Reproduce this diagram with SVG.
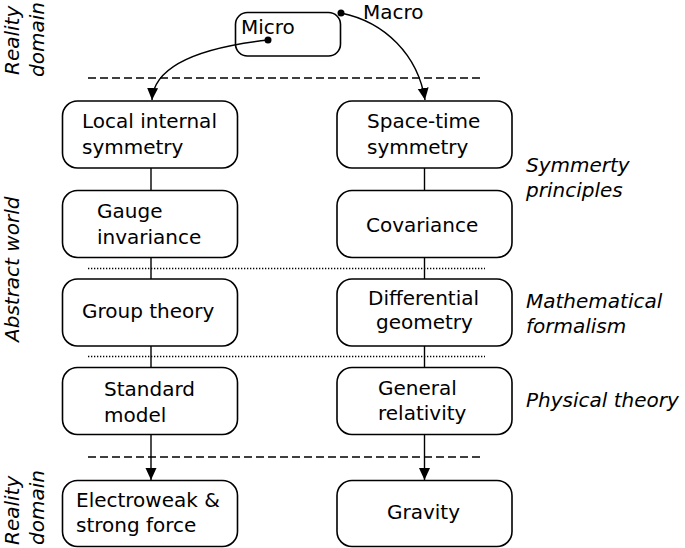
<svg xmlns="http://www.w3.org/2000/svg" width="685" height="548" viewBox="0 0 685 548">
<style>
text{font-family:"DejaVu Sans","Liberation Sans",sans-serif;font-size:20px;fill:#000}
.it{font-style:italic}
.box{fill:#fff;stroke:#000;stroke-width:1.6}
.con{fill:none;stroke:#000;stroke-width:1.4}
.dash{fill:none;stroke:#000;stroke-width:1.6;stroke-dasharray:8,4}
.dot{fill:none;stroke:#000;stroke-width:1.3;stroke-dasharray:1.3,1.7}
</style>
<defs>
<marker id="arr" markerUnits="userSpaceOnUse" markerWidth="12" markerHeight="12" refX="12" refY="6" orient="auto">
<path d="M0,0.5 L12,6 L0,11.5 z" fill="#000"/>
</marker>
</defs>
<rect width="685" height="548" fill="#fff"/>
<g id="side-labels">
<text class="it" transform="translate(19,75) rotate(-90)">Reality</text>
<text class="it" transform="translate(44,77) rotate(-90)">domain</text>
<text class="it" transform="translate(19,342) rotate(-90)">Abstract world</text>
<text class="it" transform="translate(19,545) rotate(-90)">Reality</text>
<text class="it" transform="translate(44,545) rotate(-90)">domain</text>
<text class="it" x="526" y="172">Symmerty</text>
<text class="it" x="526" y="197">principles</text>
<text class="it" x="526" y="308">Mathematical</text>
<text class="it" x="526" y="333">formalism</text>
<text class="it" x="526" y="407">Physical theory</text>
</g>
<g id="separators">
<line class="dash" x1="88" y1="78" x2="484" y2="78"/>
<line class="dot" x1="88" y1="268.5" x2="485" y2="268.5"/>
<line class="dot" x1="88" y1="356.5" x2="485" y2="356.5"/>
<line class="dash" x1="88" y1="457" x2="484" y2="457"/>
</g>
<g id="micro-macro">
<rect class="box" x="235.5" y="12.5" width="105" height="43.5" rx="12"/>
<text x="241" y="34">Micro</text>
<text x="363" y="19">Macro</text>
</g>
<g id="connectors">
<path class="con" d="M268,40 C215,46 154,60 152,100" marker-end="url(#arr)"/>
<path class="con" d="M341,13 C385,22 418,55 425,100" marker-end="url(#arr)"/>
<line class="con" x1="151" y1="168" x2="151" y2="190"/>
<line class="con" x1="151" y1="257" x2="151" y2="279"/>
<line class="con" x1="151" y1="346" x2="151" y2="367"/>
<line class="con" x1="151" y1="435" x2="151" y2="480" marker-end="url(#arr)"/>
<line class="con" x1="424.5" y1="168" x2="424.5" y2="190"/>
<line class="con" x1="424.5" y1="257" x2="424.5" y2="279"/>
<line class="con" x1="424.5" y1="346" x2="424.5" y2="367"/>
<line class="con" x1="424.5" y1="435" x2="424.5" y2="480" marker-end="url(#arr)"/>
<circle cx="268" cy="40" r="3.5" fill="#000"/>
<circle cx="341" cy="13" r="3.5" fill="#000"/>
</g>
<g id="local-internal-symmetry">
<rect class="box" x="62.5" y="101" width="175" height="67" rx="15"/>
<text x="82" y="128">Local internal</text>
<text x="82" y="154">symmetry</text>
</g>
<g id="gauge-invariance">
<rect class="box" x="62.5" y="190.5" width="175" height="67" rx="15"/>
<text x="97" y="218">Gauge</text>
<text x="97" y="244">invariance</text>
</g>
<g id="group-theory">
<rect class="box" x="62.5" y="279" width="175" height="67" rx="15"/>
<text x="82" y="318">Group theory</text>
</g>
<g id="standard-model">
<rect class="box" x="62.5" y="367.5" width="175" height="67" rx="15"/>
<text x="104" y="396">Standard</text>
<text x="104" y="422">model</text>
</g>
<g id="electroweak-strong">
<rect class="box" x="62.5" y="480.5" width="175" height="66" rx="15"/>
<text x="76" y="507">Electroweak &amp;</text>
<text x="76" y="532">strong force</text>
</g>
<g id="space-time-symmetry">
<rect class="box" x="337" y="101" width="175" height="67" rx="15"/>
<text x="367" y="128">Space-time</text>
<text x="367" y="154">symmetry</text>
</g>
<g id="covariance">
<rect class="box" x="337" y="190.5" width="175" height="67" rx="15"/>
<text x="366" y="232">Covariance</text>
</g>
<g id="differential-geometry">
<rect class="box" x="337" y="279" width="175" height="67" rx="15"/>
<text x="368" y="305">Differential</text>
<text x="376" y="329">geometry</text>
</g>
<g id="general-relativity">
<rect class="box" x="337" y="367.5" width="175" height="67" rx="15"/>
<text x="378" y="395">General</text>
<text x="378" y="420">relativity</text>
</g>
<g id="gravity">
<rect class="box" x="337" y="480.5" width="175" height="66" rx="15"/>
<text x="387" y="519">Gravity</text>
</g>
</svg>
